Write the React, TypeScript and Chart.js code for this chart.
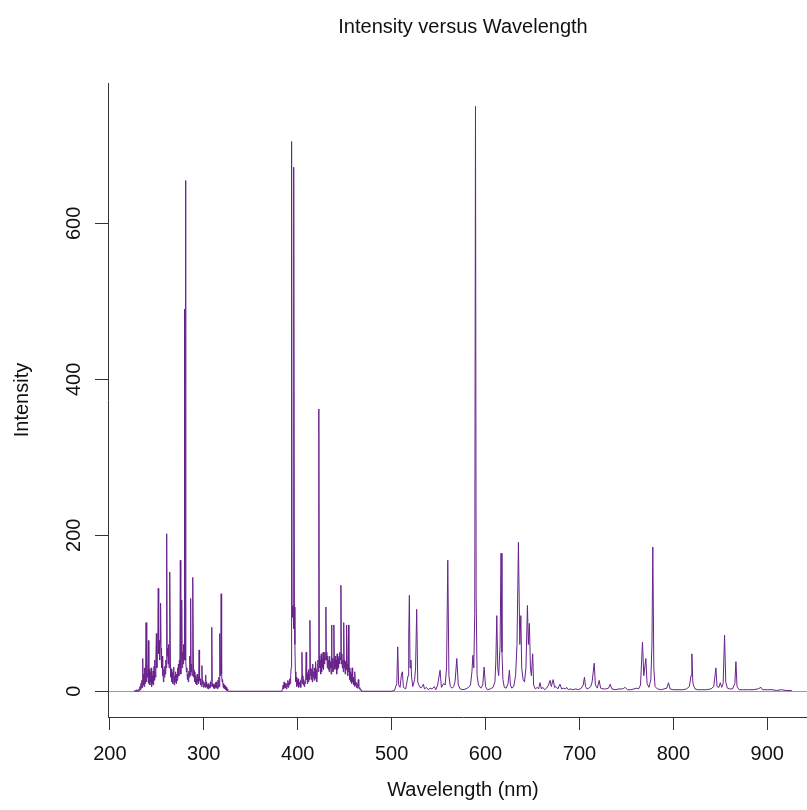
import { useEffect, useRef } from "react";
import { Chart, registerables } from "chart.js";

Chart.register(...registerables);

const chartTitle = "Intensity versus Wavelength";
const xAxisTitle = "Wavelength (nm)";
const yAxisTitle = "Intensity";
const xTickValues = [200, 300, 400, 500, 600, 700, 800, 900];
const yTickValues = [0, 200, 400, 600];

// UV cluster, sampled every 0.5 nm from 226 nm
const uvStartNm = 226;
const uvStepNm = 0.5;
const uvIntensity = [
  0, 1, 0, 1, 0, 2, 0, 1, 0, 2,
  3, 1, 6, 2, 10, 4, 14, 5, 42, 8,
  22, 6, 30, 10, 26, 88, 12, 35, 18, 30,
  65, 10, 28, 8, 24, 12, 30, 6, 20, 10,
  26, 8, 32, 14, 40, 18, 45, 74, 30, 55,
  60, 132, 48, 65, 40, 62, 113, 55, 30, 45,
  20, 35, 12, 28, 18, 32, 22, 40, 30, 202,
  45, 55, 35, 60, 30, 40, 153, 30, 18, 28,
  12, 24, 10, 22, 31, 8, 20, 12, 25, 10,
  22, 14, 30, 18, 35, 20, 40, 30, 168, 22,
  45, 117, 30, 50, 35, 60, 40, 490, 45, 655,
  40, 25, 30, 15, 22, 12, 26, 18, 45, 20,
  119, 25, 35, 20, 30, 146, 28, 18, 25, 12,
  20, 10, 16, 8, 22, 12, 18, 10, 53, 14,
  16, 8, 12, 6, 33, 10, 14, 5, 12, 6,
  10, 5, 21, 6, 12, 4, 9, 3, 10, 5,
  8, 4, 12, 6, 15, 82, 10, 6, 9, 4,
  8, 3, 10, 5, 12, 4, 9, 3, 14, 5,
  18, 6, 74, 20, 30, 125, 22, 12, 15, 6,
  10, 4, 8, 3, 6, 2, 5, 1, 3, 1,
  0,
];

// Violet cluster, sampled every 0.5 nm from 383 nm
const violetStartNm = 383;
const violetStepNm = 0.5;
const violetIntensity = [
  0, 2, 4, 8, 3, 12, 5, 10, 4, 8,
  3, 10, 6, 14, 5, 12, 8, 16, 10, 20,
  30, 705, 108, 95, 110, 80, 672, 108, 60, 25,
  12, 18, 6, 14, 8, 16, 5, 10, 12, 6,
  14, 5, 18, 50, 10, 20, 8, 15, 6, 12,
  10, 20, 50, 15, 22, 10, 25, 12, 28, 15,
  91, 20, 30, 15, 28, 12, 35, 18, 25, 14,
  30, 16, 38, 20, 28, 12, 35, 40, 25, 362,
  45, 30, 40, 22, 48, 25, 42, 30, 50, 28,
  45, 35, 50, 40, 108, 40, 50, 30, 45, 28,
  40, 25, 45, 30, 38, 22, 85, 30, 42, 25,
  38, 85, 40, 28, 45, 30, 40, 22, 48, 28,
  42, 30, 45, 35, 50, 40, 136, 35, 48, 30,
  40, 25, 88, 30, 40, 22, 38, 28, 85, 30,
  35, 20, 85, 25, 30, 15, 25, 12, 22, 10,
  30, 12, 18, 8, 15, 6, 25, 8, 12, 5,
  10, 4, 8, 15, 6, 3, 5, 2, 3, 1,
  0,
];

// Visible / near-IR lines
const visibleNm = [
  500, 503, 505.5, 506.5, 507.5, 509, 510.5, 511.5, 512.5, 515,
  517.5, 518.2, 518.9, 519.6, 520.5, 521.3, 522.5, 524.5, 525.5, 526.7,
  527.8, 529, 531, 532.5, 533.8, 535, 537, 539, 541, 543,
  545.5, 547, 549, 551.6, 553, 555.5, 557, 558.5, 559.8, 561,
  562.5, 564.5, 566, 567.5, 569.4, 571, 573, 576, 579, 582,
  584, 585.5, 586.5, 587.5, 588.5, 589.3, 590, 591, 592.5, 595,
  597, 598.5, 600, 602, 605, 608, 610, 611, 612, 613,
  614, 615.5, 616.5, 617.5, 618.5, 620, 622, 624, 625.4, 626.5,
  628, 630, 632, 633.5, 635, 636.5, 637.6, 638.5, 640, 641.5,
  643, 644.6, 645.6, 646.7, 647.8, 648.8, 650.2, 651.2, 653, 655,
  656.5, 658, 659.5, 661, 663, 665, 667, 668.8, 670, 672,
  673.5, 675, 677, 679.3, 681, 683, 685, 686.4, 688, 690,
  693, 696, 699, 702, 704, 705.3, 706.5, 708, 710, 712,
  713.5, 715.7, 717, 719, 721, 722.5, 725, 728, 731, 732.7,
  734.5, 738, 742, 746, 748.7, 751, 755, 758, 761, 763,
  765, 767.1, 768.5, 770.7, 772, 774, 776, 777.2, 778.1, 779.2,
  780.5, 783, 787, 790, 793, 794.8, 796.5, 800, 805, 810,
  814, 817, 818.8, 819.7, 820.7, 821.4, 823, 826, 830, 835,
  840, 843, 845.3, 846.5, 848.5, 850, 851.5, 853, 854.5, 855.8,
  857.5, 860, 863, 865.5, 866.6, 867.8, 870, 875, 880, 885,
  890, 893.3, 895, 900, 905, 910, 915, 920, 926,
];
const visibleIntensity = [
  0, 1, 10, 57, 8, 5, 22, 25, 5, 3,
  20, 70, 123, 30, 40, 18, 6, 15, 30, 105,
  12, 8, 4, 6, 9, 3, 5, 2, 4, 3,
  6, 2, 8, 27, 5, 10, 8, 30, 168, 20,
  6, 4, 6, 12, 42, 8, 3, 2, 3, 5,
  8, 25, 46, 30, 100, 750, 120, 20, 8, 4,
  8, 31, 6, 2, 3, 5, 12, 40, 97, 30,
  20, 60, 177, 50, 15, 5, 4, 10, 27, 8,
  4, 6, 20, 60, 191, 60, 97, 30, 15, 12,
  30, 110, 60, 87, 30, 20, 48, 8, 3, 5,
  3, 11, 3, 5, 2, 4, 8, 14, 6, 15,
  5, 6, 3, 9, 3, 4, 3, 5, 2, 3,
  2, 3, 2, 4, 8, 18, 6, 3, 4, 6,
  12, 36, 8, 4, 14, 4, 3, 3, 4, 9,
  3, 2, 3, 3, 5, 2, 2, 3, 4, 3,
  8, 63, 20, 42, 10, 5, 15, 60, 185, 30,
  6, 3, 2, 3, 4, 11, 3, 2, 2, 2,
  3, 6, 20, 48, 12, 8, 3, 2, 2, 2,
  3, 6, 30, 6, 5, 11, 5, 10, 72, 12,
  4, 3, 3, 10, 38, 6, 2, 2, 2, 2,
  3, 5, 2, 2, 2, 1, 2, 1, 1,
];

const FONT_FAMILY = "'Liberation Sans', Arial, Helvetica, sans-serif";
const FONT_SIZE = 20;
const TEXT_COLOR = "#111111";
const AXIS_COLOR = "#333333";
const LINE_COLOR = "#68228B";

function buildPoints() {
  const pts: { x: number; y: number }[] = [];
  uvIntensity.forEach((v, i) => pts.push({ x: uvStartNm + i * uvStepNm, y: v }));
  violetIntensity.forEach((v, i) => pts.push({ x: violetStartNm + i * violetStepNm, y: v }));
  visibleNm.forEach((w, i) => pts.push({ x: w, y: visibleIntensity[i] }));
  return pts;
}

export default function App() {
  const ref = useRef<HTMLCanvasElement>(null);

  useEffect(() => {
    const canvas = ref.current;
    if (!canvas) return;
    const chart = new Chart(canvas, {
      type: "line",
      data: {
        datasets: [
          {
            data: buildPoints(),
            borderColor: LINE_COLOR,
            borderWidth: 1,
            pointRadius: 0,
            tension: 0,
            fill: false,
          },
        ],
      },
      options: {
        animation: false,
        responsive: false,
        events: [],
        layout: { padding: { left: 0, right: 0, top: 0, bottom: 0 } },
        plugins: {
          legend: { display: false },
          tooltip: { enabled: false },
          title: {
            display: true,
            text: chartTitle,
            fullSize: false,
            color: TEXT_COLOR,
            font: { family: FONT_FAMILY, size: FONT_SIZE, weight: "normal" },
            padding: { top: 15, bottom: 44 },
          },
        },
        scales: {
          x: {
            type: "linear",
            min: 198,
            max: 954,
            afterBuildTicks: (scale: any) => {
              scale.ticks = xTickValues.map((v) => ({ value: v }));
            },
            afterFit: (scale: any) => {
              scale.height = 93;
            },
            grid: {
              display: true,
              drawOnChartArea: false,
              drawTicks: true,
              tickLength: 13,
              tickColor: AXIS_COLOR,
              tickWidth: 1,
            },
            border: { display: true, color: AXIS_COLOR, width: 1 },
            ticks: {
              color: TEXT_COLOR,
              font: { family: FONT_FAMILY, size: FONT_SIZE },
              padding: 12,
              maxRotation: 0,
              minRotation: 0,
              autoSkip: false,
            },
            title: {
              display: true,
              text: xAxisTitle,
              color: TEXT_COLOR,
              font: { family: FONT_FAMILY, size: FONT_SIZE },
              padding: { top: 0, bottom: 8 },
            },
          },
          y: {
            type: "linear",
            min: -33,
            max: 780,
            afterBuildTicks: (scale: any) => {
              scale.ticks = yTickValues.map((v) => ({ value: v }));
            },
            afterFit: (scale: any) => {
              scale.width = 108;
            },
            grid: {
              display: true,
              drawOnChartArea: true,
              drawTicks: true,
              tickLength: 13,
              tickColor: AXIS_COLOR,
              tickWidth: 1,
              color: (ctx: any) => (ctx.tick && ctx.tick.value === 0 ? "#9a9a9a" : "rgba(0,0,0,0)"),
            },
            border: { display: true, color: AXIS_COLOR, width: 1 },
            ticks: {
              color: TEXT_COLOR,
              font: { family: FONT_FAMILY, size: FONT_SIZE },
              padding: 4,
              minRotation: 90,
              maxRotation: 90,
              crossAlign: "center",
              autoSkip: false,
            },
            title: {
              display: true,
              text: yAxisTitle,
              color: TEXT_COLOR,
              font: { family: FONT_FAMILY, size: FONT_SIZE },
              padding: { top: 10, bottom: 0 },
            },
          },
        },
      },
    } as any);
    return () => chart.destroy();
  }, []);

  return (
    <div
      style={{
        position: "absolute",
        left: 0,
        top: 0,
        width: 807,
        height: 810,
        overflow: "hidden",
        background: "#ffffff",
      }}
    >
      <canvas ref={ref} width={818} height={810} style={{ display: "block", width: 818, height: 810 }} />
    </div>
  );
}
